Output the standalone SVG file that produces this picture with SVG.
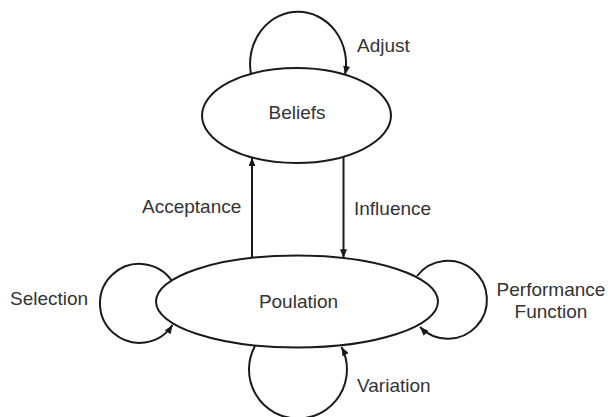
<svg xmlns="http://www.w3.org/2000/svg" width="608" height="417" viewBox="0 0 608 417">
  <style>
    .node { fill: #ffffff; stroke: #1a1a1a; stroke-width: 2; }
    .edge { fill: none; stroke: #1a1a1a; stroke-width: 2; marker-end: url(#arrow); }
    text { font-family: "Liberation Sans", Arial, sans-serif; font-size: 19px; fill: #333333; }
    .c { text-anchor: middle; }
  </style>
  <defs>
    <marker id="arrow" viewBox="0 0 10 8" refX="10" refY="4" markerWidth="9" markerHeight="7" markerUnits="userSpaceOnUse" orient="auto">
      <path d="M0,0 L10,4 L0,8 z" fill="#1a1a1a"/>
    </marker>
  </defs>
  <rect width="608" height="417" fill="#ffffff"/>

  <g id="connectors">
    <path class="edge" d="M251,74 A 48 52 0 1 1 345,74.7"/>
    <line class="edge" x1="252" y1="258" x2="252" y2="157.4"/>
    <line class="edge" x1="343.5" y1="156.7" x2="343.5" y2="258"/>
    <path class="edge" d="M172,281 A 39.5 39.5 0 1 0 172.5,325"/>
    <path class="edge" d="M417,276 A 39 39 0 1 1 420,327"/>
    <path class="edge" d="M255,346 A 49 49 0 1 0 341.5,347"/>
  </g>

  <g id="beliefs">
    <ellipse class="node" cx="296.5" cy="115.5" rx="94.5" ry="47.5"/>
    <text class="c" x="297" y="119">Beliefs</text>
  </g>

  <g id="population">
    <ellipse class="node" cx="297" cy="301.5" rx="141" ry="46"/>
    <text class="c" x="298.5" y="308">Poulation</text>
  </g>

  <g id="labels">
    <text x="357" y="52">Adjust</text>
    <text x="142" y="213">Acceptance</text>
    <text x="354" y="215">Influence</text>
    <text x="10" y="305">Selection</text>
    <text class="c" x="551" y="296">Performance</text>
    <text class="c" x="551" y="318">Function</text>
    <text x="357" y="392">Variation</text>
  </g>
</svg>
